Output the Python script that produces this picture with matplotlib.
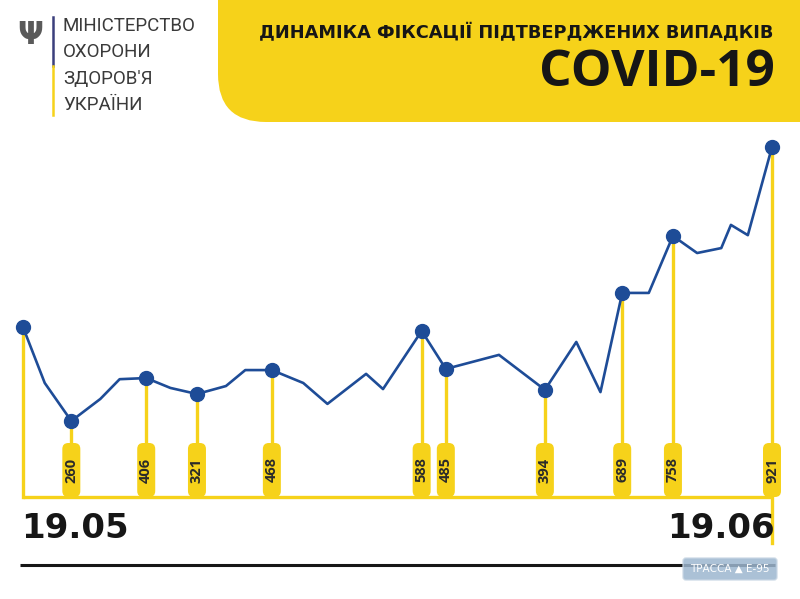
import matplotlib
matplotlib.use('Agg')
import matplotlib.pyplot as plt
from matplotlib.patches import FancyBboxPatch

# ---- data ----
days = [0, 0.9, 2.0, 3.2, 4.0, 5.1, 6.1, 7.2, 8.4, 9.2, 10.3, 11.6, 12.6, 14.2, 14.9,
        16.5, 17.5, 19.7, 21.6, 22.9, 23.9, 24.8, 25.9, 26.9, 27.9, 28.9, 29.3, 30.0, 31.0]
level = [447, 300, 200, 258, 310, 313, 287, 271, 292, 334, 334, 300, 245, 324, 284,
         437, 337, 374, 282, 408, 276, 537, 537, 687, 642, 655, 716, 689, 921]
marked = [0, 2, 5, 7, 10, 15, 16, 18, 21, 23, 28]
labels = ['', '260', '406', '321', '468', '588', '485', '394', '689', '758', '921']
start_label = '19.05'
end_label = '19.06'
title_small = 'ДИНАМІКА ФІКСАЦІЇ ПІДТВЕРДЖЕНИХ ВИПАДКІВ'
title_big = 'COVID-19'
ministry = ['МІНІСТЕРСТВО', 'ОХОРОНИ', "ЗДОРОВ'Я", 'УКРАЇНИ']

YELLOW = '#F6D21A'
NAVY = '#1E4C97'
DARK = '#161616'

W, H = 800, 599
fig = plt.figure(figsize=(W / 100, H / 100), dpi=100)
fig.patch.set_facecolor('white')

bg = fig.add_axes([0, 0, 1, 1])
bg.set_xlim(0, W)
bg.set_ylim(H, 0)
bg.axis('off')

chart = fig.add_axes([23 / W, (H - 497) / H, (772 - 23) / W, (497 - 147) / H])
chart.set_xlim(days[0], days[-1])
chart.set_ylim(0, max(level))
chart.axis('off')


def to_px(x, y):
    disp = chart.transData.transform((x, y))
    return bg.transData.inverted().transform(disp)


# header panel
bg.add_patch(FancyBboxPatch((218, -80), 700, 202,
                            boxstyle='round,pad=0,rounding_size=48',
                            facecolor=YELLOW, edgecolor='none', zorder=1))
bg.text(773, 33, title_small, ha='right', va='center', fontsize=12.8,
        fontweight='bold', family='DejaVu Sans', color=DARK, zorder=3)
bg.text(775, 73, title_big, ha='right', va='center', fontsize=37,
        fontweight='bold', family=['Open Sans', 'DejaVu Sans'], color=DARK, zorder=3)

# ministry logo
bg.plot([53, 53], [17, 66], color='#3B3F7C', lw=1.8, zorder=3)
bg.plot([53, 53], [66, 115], color=YELLOW, lw=1.8, zorder=3)
bg.text(30, 36, 'Ψ', ha='center', va='center', fontsize=22, color='#5a5a5a',
        fontweight='bold', family='DejaVu Sans', zorder=3)
for k, line in enumerate(ministry):
    bg.text(63, 26 + k * 26.3, line, ha='left', va='center', fontsize=13.5,
            family=['Roboto', 'DejaVu Sans'], color='#3a3a3a', zorder=3)

# baseline
x0, yb = to_px(days[0], 0)
x1, _ = to_px(days[-1], 0)
bg.plot([x0, x1], [yb, yb], color=YELLOW, lw=2.4, zorder=2, solid_capstyle='butt')

# stems and pills
pill_h, pill_w = 54, 18
for i, lab in zip(marked, labels):
    px, py = to_px(days[i], level[i])
    if lab == '':
        bg.plot([px, px], [py, yb], color=YELLOW, lw=2.4, zorder=2)
        continue
    bottom = yb + 46 if i == len(days) - 1 else yb - pill_h
    bg.plot([px, px], [py, bottom], color=YELLOW, lw=2.4, zorder=2)
    bg.add_patch(FancyBboxPatch((px - pill_w / 2, yb - pill_h), pill_w, pill_h,
                                boxstyle='round,pad=0,rounding_size=6',
                                facecolor=YELLOW, edgecolor='none', zorder=3))
    bg.text(px, yb - pill_h / 2, lab, rotation=90, ha='center', va='center',
            fontsize=10.5, fontweight='bold', family=['Open Sans', 'DejaVu Sans'],
            color='#2a2a2a', zorder=4)

# the line and markers
chart.plot(days, level, color=NAVY, lw=1.9, zorder=5, clip_on=False)
chart.plot([days[i] for i in marked], [level[i] for i in marked], 'o', color=NAVY,
           markersize=10, zorder=6, clip_on=False)

# dates and bottom rule
bg.text(21, 529, start_label, ha='left', va='center', fontsize=24.5, fontweight='bold',
        family='DejaVu Sans', color=DARK)
bg.text(775, 529, end_label, ha='right', va='center', fontsize=24.5, fontweight='bold',
        family='DejaVu Sans', color=DARK)
bg.plot([20, 775], [565, 565], color=DARK, lw=2.2, solid_capstyle='butt')

# watermark
bg.add_patch(FancyBboxPatch((683, 558), 94, 22, boxstyle='round,pad=0,rounding_size=3',
                            facecolor='#9db6cf', edgecolor='#c9d7e4', alpha=0.85, zorder=7))
bg.text(730, 569, 'ТРАССА ▲ Е-95', ha='center', va='center', fontsize=7.5,
        color='white', family='DejaVu Sans', zorder=8)

fig.savefig('out.png', dpi=100, facecolor='white')
